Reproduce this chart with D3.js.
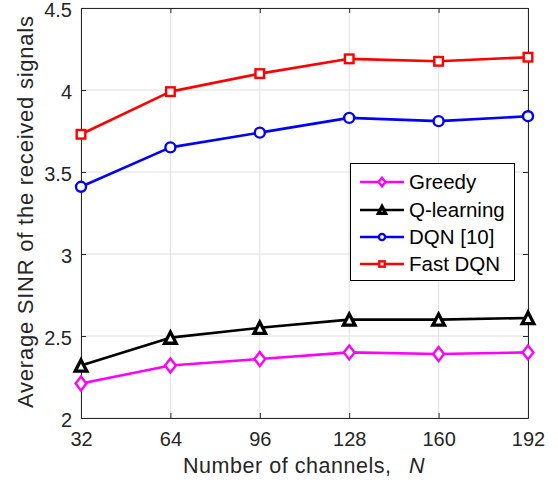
<!DOCTYPE html>
<html>
<head>
<meta charset="utf-8">
<script src="https://cdn.jsdelivr.net/npm/d3@7"></script>
<style>
  html, body { margin: 0; padding: 0; background: #fff; }
  svg { display: block; font-family: "Liberation Sans", Arial, Helvetica, sans-serif; }
</style>
</head>
<body>
<svg id="chart" width="558" height="483"></svg>
<script>
// Number of channels N on the x axis
const channels = [32, 64, 96, 128, 160, 192];
// Average SINR of the received signals per method
const greedy    = [2.21, 2.32, 2.36, 2.40, 2.39, 2.40];
const qLearning = [2.32, 2.49, 2.55, 2.60, 2.60, 2.61];
const dqn       = [3.41, 3.65, 3.74, 3.83, 3.81, 3.84];
const fastDqn   = [3.73, 3.99, 4.10, 4.19, 4.175, 4.20];
const yTicks = [2, 2.5, 3, 3.5, 4, 4.5];
const yTickLabels = ["2", "2.5", "3", "3.5", "4", "4.5"];
const seriesNames = ["Greedy", "Q-learning", "DQN [10]", "Fast DQN"];

const series = [
  { name: seriesNames[0], values: greedy,    color: "#ff00ff", marker: "diamond" },
  { name: seriesNames[1], values: qLearning, color: "#000000", marker: "triangle" },
  { name: seriesNames[2], values: dqn,       color: "#0000ff", marker: "circle" },
  { name: seriesNames[3], values: fastDqn,   color: "#ff0000", marker: "square" }
];

const svg = d3.select("#chart");
const plot = { left: 81, right: 528, top: 8, bottom: 418 };
const axisColor = "#262626";

const x = d3.scaleLinear().domain([32, 192]).range([plot.left, plot.right]);
const y = d3.scaleLinear().domain([2, 4.5]).range([plot.bottom, plot.top]);

// grid
const grid = svg.append("g").attr("stroke", "#dfdfdf").attr("stroke-width", 1);
channels.forEach(c => grid.append("line")
  .attr("x1", x(c)).attr("x2", x(c)).attr("y1", plot.top).attr("y2", plot.bottom));
yTicks.forEach(t => grid.append("line")
  .attr("x1", plot.left).attr("x2", plot.right).attr("y1", y(t)).attr("y2", y(t)));

// axes (box with inward ticks on all four sides)
const tickLen = 5;
const fontTick = 20;
const xAxisB = d3.axisBottom(x).tickValues(channels).tickSizeInner(-tickLen).tickSizeOuter(0).tickPadding(14);
const xAxisT = d3.axisTop(x).tickValues(channels).tickSizeInner(-tickLen).tickSizeOuter(0).tickFormat("");
const yAxisL = d3.axisLeft(y).tickValues(yTicks).tickSizeInner(-tickLen).tickSizeOuter(0).tickPadding(14)
  .tickFormat((d, i) => yTickLabels[i]);
const yAxisR = d3.axisRight(y).tickValues(yTicks).tickSizeInner(-tickLen).tickSizeOuter(0).tickFormat("");

function styleAxis(g) {
  g.select(".domain").attr("stroke", axisColor).attr("stroke-width", 1);
  g.selectAll(".tick line").attr("stroke", axisColor).attr("stroke-width", 1);
  g.selectAll(".tick text").attr("fill", axisColor).attr("font-size", fontTick)
    .attr("font-family", "'Liberation Sans', Arial, sans-serif");
}
svg.append("g").attr("transform", `translate(0,${plot.bottom})`).call(xAxisB).call(styleAxis)
  .selectAll(".tick text").attr("dy", "0.71em").attr("y", 14);
svg.append("g").attr("transform", `translate(0,${plot.top})`).call(xAxisT).call(styleAxis);
svg.append("g").attr("transform", `translate(${plot.left},0)`).call(yAxisL).call(styleAxis)
  .selectAll(".tick text").attr("x", -9).attr("y", 2);
svg.append("g").attr("transform", `translate(${plot.right},0)`).call(yAxisR).call(styleAxis);

// marker shapes
function drawMarker(g, type, cx, cy, color, s) {
  const sw = 2.4;
  if (type === "circle") {
    g.append("circle").attr("cx", cx).attr("cy", cy).attr("r", 5 * s)
      .attr("fill", "#fff").attr("stroke", color).attr("stroke-width", sw);
  } else if (type === "square") {
    const h = 4.3 * s;
    g.append("rect").attr("x", cx - h).attr("y", cy - h).attr("width", 2 * h).attr("height", 2 * h)
      .attr("fill", "#fff").attr("stroke", color).attr("stroke-width", sw);
  } else if (type === "diamond") {
    const w = 5.4 * s, h = 7 * s;
    g.append("path").attr("d", `M${cx},${cy - h}L${cx + w},${cy}L${cx},${cy + h}L${cx - w},${cy}Z`)
      .attr("fill", "#fff").attr("stroke", color).attr("stroke-width", sw);
  } else if (type === "triangle") {
    const w = 5.8 * s, h = 5.6 * s;
    g.append("path").attr("d", `M${cx},${cy - h}L${cx + w},${cy + h}L${cx - w},${cy + h}Z`)
      .attr("fill", "#fff").attr("stroke", color).attr("stroke-width", sw + 0.9)
      .attr("stroke-linejoin", "miter");
  }
}

// series lines and markers
const line = d3.line().x((d, i) => x(channels[i])).y(d => y(d));
series.forEach(s => {
  const g = svg.append("g");
  g.append("path").datum(s.values).attr("d", line)
    .attr("fill", "none").attr("stroke", s.color).attr("stroke-width", 2.6)
    .attr("stroke-linejoin", "round");
  s.values.forEach((v, i) => drawMarker(g, s.marker, x(channels[i]), y(v), s.color, 1));
});

// legend
const legend = svg.append("g");
legend.append("rect").attr("x", 350.5).attr("y", 163.5).attr("width", 164).attr("height", 117)
  .attr("fill", "#fff").attr("stroke", "#000").attr("stroke-width", 1);
const rowY = [182, 210, 237, 264];
series.forEach((s, i) => {
  const ry = rowY[i];
  legend.append("line").attr("x1", 360).attr("x2", 404).attr("y1", ry).attr("y2", ry)
    .attr("stroke", s.color).attr("stroke-width", 2.6);
  drawMarker(legend, s.marker, 382, ry, s.color, 0.62);
  legend.append("text").attr("x", 409).attr("y", ry).attr("dy", "0.36em")
    .attr("font-size", 20.5).attr("fill", "#000").text(s.name);
});

// axis titles
const xTitle = svg.append("text").attr("y", 473).attr("font-size", 21.5).attr("fill", axisColor);
xTitle.append("tspan").attr("x", 183).attr("textLength", 208).attr("lengthAdjust", "spacing")
  .text("Number of channels,");
xTitle.append("tspan").attr("x", 409).attr("font-style", "italic").text("N");
svg.append("text").attr("transform", "translate(33,212) rotate(-90)")
  .attr("text-anchor", "middle").attr("font-size", 22)
  .attr("textLength", 392).attr("lengthAdjust", "spacing").attr("fill", axisColor)
  .text("Average SINR of the received signals");
</script>
</body>
</html>
